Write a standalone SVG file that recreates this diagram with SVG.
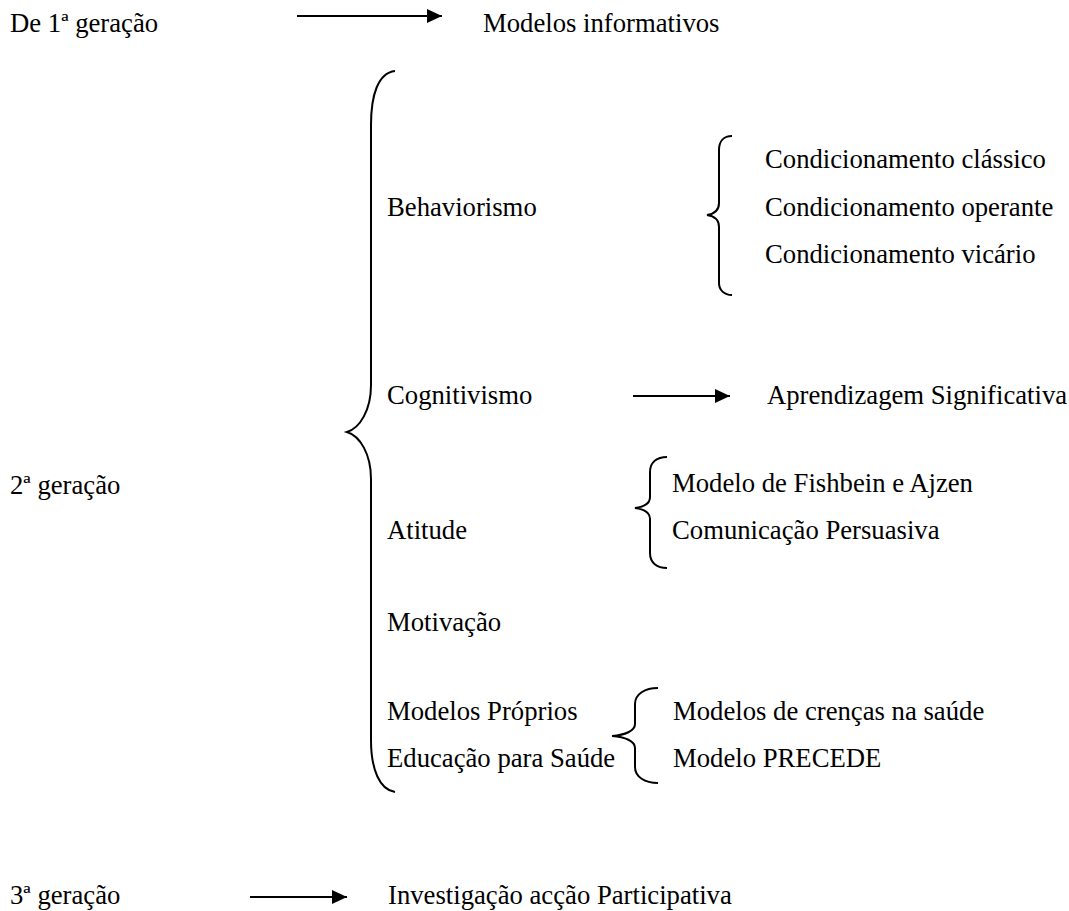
<svg xmlns="http://www.w3.org/2000/svg" width="1069" height="911" viewBox="0 0 1069 911">
<defs>
<style>
text{font-family:"Liberation Serif","Times New Roman",serif;font-size:26.7px;fill:#000}
.br{fill:none;stroke:#000;stroke-width:2}
.ln{stroke:#000;stroke-width:2}
</style>
<marker id="ah" markerUnits="userSpaceOnUse" markerWidth="16" markerHeight="15" refX="15" refY="7" orient="auto"><path d="M0,0 L15,7 L0,14 Z" fill="#000"/></marker>
</defs>
<rect width="1069" height="911" fill="#fff"/>
<g id="connectors">
<line class="ln" x1="297" y1="16" x2="442" y2="16" marker-end="url(#ah)"/>
<line class="ln" x1="633" y1="396" x2="730" y2="396" marker-end="url(#ah)"/>
<line class="ln" x1="250" y1="897" x2="347" y2="897" marker-end="url(#ah)"/>
<path id="brace-main" class="br" d="M395,71 C378,73 371,95 371,125 L371,385 C371,410 360,428 347,432 C360,436 371,454 371,479 L371,740 C371,770 380,790 395,792"/>
<path id="brace-behav" class="br" d="M732,136 C724,136 719,141 719,150 L719,203 C719,210 714,214 707,215 C714,216 719,220 719,227 L719,283 C719,290 724,295 732,295"/>
<path id="brace-atit" class="br" d="M667,457 C657,457 650,462 650,472 L650,497 C650,504 643,507 635,508 C643,509 650,512 650,519 L650,553 C650,563 657,568 667,568"/>
<path id="brace-mod" class="br" d="M658,688 C645,688 635,694 635,704 L635,724 C635,731 625,735 612,736 C625,737 635,741 635,748 L635,767 C635,777 645,783 658,783"/>
</g>
<g id="gen1"><text x="10" y="32">De 1ª geração</text></g>
<g id="modelos-informativos"><text x="483" y="32">Modelos informativos</text></g>
<g id="gen2"><text x="10" y="494">2ª geração</text></g>
<g id="behaviorismo"><text x="387" y="216">Behaviorismo</text></g>
<g id="cond-classico"><text x="765" y="168">Condicionamento clássico</text></g>
<g id="cond-operante"><text x="765" y="216">Condicionamento operante</text></g>
<g id="cond-vicario"><text x="765" y="263">Condicionamento vicário</text></g>
<g id="cognitivismo"><text x="387" y="404">Cognitivismo</text></g>
<g id="aprendizagem"><text x="767" y="404">Aprendizagem Significativa</text></g>
<g id="atitude"><text x="387" y="539">Atitude</text></g>
<g id="fishbein"><text x="672" y="492">Modelo de Fishbein e Ajzen</text></g>
<g id="comunicacao"><text x="672" y="539">Comunicação Persuasiva</text></g>
<g id="motivacao"><text x="387" y="631">Motivação</text></g>
<g id="modelos-proprios"><text x="387" y="720">Modelos Próprios</text></g>
<g id="educacao"><text x="387" y="767">Educação para Saúde</text></g>
<g id="crencas"><text x="673" y="720">Modelos de crenças na saúde</text></g>
<g id="precede"><text x="673" y="767">Modelo PRECEDE</text></g>
<g id="gen3"><text x="10" y="904">3ª geração</text></g>
<g id="investigacao"><text x="388" y="904">Investigação acção Participativa</text></g>
</svg>
